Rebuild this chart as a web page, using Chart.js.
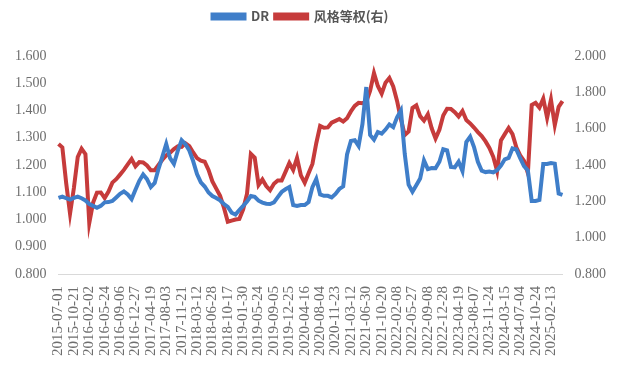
<!DOCTYPE html>
<html>
<head>
<meta charset="utf-8">
<script src="https://cdn.jsdelivr.net/npm/chart.js@4.4.1/dist/chart.umd.min.js"></script>
<style>
  html, body { margin: 0; padding: 0; background: #fff; }
  #wrap { width: 618px; height: 369px; }
</style>
</head>
<body>
<div id="wrap"><canvas id="chart" width="618" height="369"></canvas></div>
<script>
// x轴刻度（每4个数据点一个标签）
const tickLabels = [
  "2015-07-01", "2015-10-21", "2016-02-02", "2016-05-24", "2016-09-06",
  "2016-12-27", "2017-04-19", "2017-08-03", "2017-11-21", "2018-03-12",
  "2018-06-28", "2018-10-17", "2019-01-30", "2019-05-24", "2019-09-05",
  "2019-12-25", "2020-04-16", "2020-08-04", "2020-11-23", "2021-03-12",
  "2021-06-30", "2021-10-20", "2022-02-08", "2022-05-27", "2022-09-08",
  "2022-12-28", "2023-04-19", "2023-08-07", "2023-11-24", "2024-03-15",
  "2024-07-04", "2024-10-24", "2025-02-13"
];

// DR（左轴）
const drValues = [
  1.079, 1.084, 1.078, 1.073, 1.079, 1.084, 1.078, 1.070, 1.057, 1.050,
  1.043, 1.050, 1.063, 1.064, 1.068, 1.081, 1.094, 1.103, 1.092, 1.075,
  1.109, 1.142, 1.165, 1.148, 1.119, 1.134, 1.186, 1.231, 1.277, 1.225,
  1.204, 1.252, 1.291, 1.276, 1.253, 1.214, 1.167, 1.136, 1.121, 1.099,
  1.086, 1.079, 1.070, 1.057, 1.046, 1.025, 1.018, 1.035, 1.050, 1.066,
  1.086, 1.083, 1.069, 1.062, 1.058, 1.057, 1.063, 1.082, 1.101, 1.111,
  1.119, 1.053, 1.050, 1.053, 1.053, 1.064, 1.119, 1.149, 1.092, 1.087,
  1.087, 1.081, 1.094, 1.112, 1.122, 1.239, 1.288, 1.291, 1.270, 1.350,
  1.486, 1.310, 1.293, 1.321, 1.315, 1.330, 1.349, 1.339, 1.375, 1.400,
  1.240, 1.128, 1.102, 1.126, 1.150, 1.217, 1.185, 1.189, 1.188, 1.212,
  1.258, 1.254, 1.193, 1.191, 1.212, 1.178, 1.284, 1.304, 1.266, 1.212,
  1.179, 1.174, 1.176, 1.173, 1.181, 1.198, 1.221, 1.226, 1.261, 1.257,
  1.225, 1.196, 1.180, 1.068, 1.068, 1.072, 1.204, 1.204, 1.207, 1.205,
  1.095, 1.090
];

// 风格等权（右轴）
const styleValues = [
  1.516, 1.497, 1.300, 1.132, 1.273, 1.444, 1.490, 1.460, 1.081, 1.193,
  1.248, 1.249, 1.218, 1.254, 1.303, 1.322, 1.347, 1.373, 1.403, 1.433,
  1.393, 1.416, 1.414, 1.397, 1.371, 1.371, 1.401, 1.429, 1.453, 1.468,
  1.488, 1.503, 1.500, 1.519, 1.504, 1.469, 1.438, 1.424, 1.418, 1.373,
  1.310, 1.270, 1.230, 1.165, 1.088, 1.094, 1.100, 1.103, 1.156, 1.242,
  1.461, 1.440, 1.290, 1.320, 1.284, 1.261, 1.297, 1.315, 1.315, 1.362,
  1.411, 1.373, 1.439, 1.343, 1.302, 1.355, 1.406, 1.520, 1.615, 1.605,
  1.607, 1.633, 1.643, 1.653, 1.639, 1.658, 1.695, 1.725, 1.742, 1.740,
  1.747, 1.809, 1.906, 1.835, 1.793, 1.853, 1.879, 1.832, 1.753, 1.652,
  1.565, 1.585, 1.714, 1.728, 1.669, 1.644, 1.679, 1.602, 1.546, 1.594,
  1.673, 1.710, 1.709, 1.691, 1.667, 1.697, 1.647, 1.629, 1.606, 1.581,
  1.559, 1.530, 1.494, 1.445, 1.367, 1.535, 1.570, 1.604, 1.570, 1.497,
  1.453, 1.422, 1.355, 1.730, 1.742, 1.716, 1.765, 1.660, 1.760, 1.620,
  1.720, 1.752
];

const POINTS_PER_TICK = 4;
const labels = drValues.map((v, i) =>
  i % POINTS_PER_TICK === 0 ? tickLabels[i / POINTS_PER_TICK] || "" : ""
);

const serif = "'Liberation Serif', 'Times New Roman', serif";
const grayText = "#6e6e6e";

// 图例和绘图区之间多留一点空，图例略向左
const legendGap = {
  id: "legendGap",
  beforeInit(chart) {
    const origFit = chart.legend.fit;
    chart.legend.fit = function () {
      origFit.bind(chart.legend)();
      this.height += 23;
    };
  },
  afterLayout(chart) {
    chart.legend.left -= 10;
    chart.legend.right -= 10;
  },
};

new Chart(document.getElementById("chart"), {
  type: "line",
  data: {
    labels: labels,
    datasets: [
      {
        label: "DR",
        data: drValues,
        yAxisID: "yLeft",
        borderColor: "#3f7ec9",
        backgroundColor: "#3f7ec9",
        borderWidth: 4,
        pointRadius: 0,
        tension: 0,
      },
      {
        label: "风格等权(右)",
        data: styleValues,
        yAxisID: "yRight",
        borderColor: "#c63b3b",
        backgroundColor: "#c63b3b",
        borderWidth: 4,
        pointRadius: 0,
        tension: 0,
      },
    ],
  },
  plugins: [legendGap],
  options: {
    responsive: false,
    animation: false,
    layout: { padding: { left: 3, right: 0, top: 4, bottom: 1 } },
    plugins: {
      tooltip: { enabled: false },
      legend: {
        position: "top",
        labels: {
          boxWidth: 32,
          boxHeight: 4,
          padding: 6,
          color: "#555",
          font: { family: "'Noto Sans CJK SC', 'Liberation Sans', sans-serif", size: 13, weight: "bold" },
        },
      },
    },
    scales: {
      x: {
        grid: { display: false, drawTicks: false },
        border: { display: true, color: "#d9d9d9", width: 1 },
        ticks: {
          autoSkip: false,
          minRotation: 90,
          maxRotation: 90,
          padding: 12,
          color: grayText,
          font: { family: serif, size: 15 },
          callback: function (value, index) {
            return index % POINTS_PER_TICK === 0 ? this.getLabelForValue(value) : null;
          },
        },
      },
      yLeft: {
        position: "left",
        min: 0.8,
        max: 1.6,
        grid: { display: false, drawTicks: false },
        border: { display: false },
        ticks: {
          stepSize: 0.1,
          padding: 12,
          color: grayText,
          font: { family: serif, size: 14 },
          callback: (v) => v.toFixed(3),
        },
      },
      yRight: {
        position: "right",
        min: 0.8,
        max: 2.0,
        grid: { display: false, drawTicks: false },
        border: { display: false },
        ticks: {
          stepSize: 0.2,
          padding: 12,
          color: grayText,
          font: { family: serif, size: 14 },
          callback: (v) => v.toFixed(3),
        },
      },
    },
  },
});
</script>
</body>
</html>
